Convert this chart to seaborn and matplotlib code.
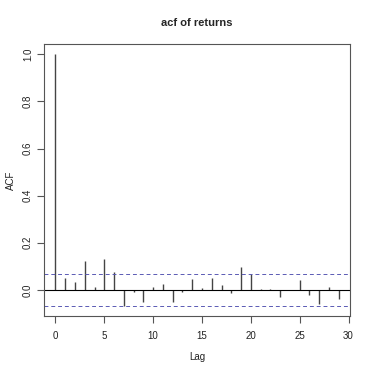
import numpy as np
import pandas as pd
import matplotlib
matplotlib.use("Agg")
import matplotlib.pyplot as plt
import seaborn as sns

# acf values, lags 0..29
lags = list(range(30))
acf = [1.0, 0.052, 0.032, 0.122, 0.014, 0.133, 0.074, -0.068, -0.009, -0.051,
       0.013, 0.024, -0.051, -0.009, 0.048, 0.006, 0.049, 0.020, -0.013, 0.095,
       0.069, 0.005, 0.002, -0.029, 0.001, 0.040, -0.022, -0.058, 0.013, -0.040]
conf = 0.068

df = pd.DataFrame({"lag": lags, "acf": acf})

sns.set_style("white")
plt.rcParams["font.family"] = ["Liberation Sans", "DejaVu Sans"]

fig = plt.figure(figsize=(3.74, 3.74), dpi=100)
ax = fig.add_axes([0.118, 0.155, 0.818, 0.727])

# stems
ax.vlines(df["lag"], 0, df["acf"], color="#444444", linewidth=1.0)
ax.axhline(0, color="black", linewidth=0.8)
ax.axhline(conf, color="#5a5ab4", linewidth=0.7, linestyle=(0, (4, 3)))
ax.axhline(-conf, color="#5a5ab4", linewidth=0.7, linestyle=(0, (4, 3)))

ax.set_xlim(-1.16, 30.16)
ax.set_ylim(-0.111, 1.043)
ax.set_xticks([0, 5, 10, 15, 20, 25, 30])
ax.set_yticks([0.0, 0.2, 0.4, 0.6, 0.8, 1.0])
ax.set_yticklabels(["0.0", "0.2", "0.4", "0.6", "0.8", "1.0"], rotation=90, va="center")

for s in ax.spines.values():
    s.set_color("#555555")
    s.set_linewidth(0.8)
ax.tick_params(axis="x", direction="out", length=5, width=0.8, color="#555555",
               labelsize=7, labelcolor="#222222", pad=6, bottom=True)
ax.tick_params(axis="y", direction="out", length=5, width=0.8, color="#555555",
               labelsize=7, labelcolor="#222222", pad=3, left=True)

ax.set_xlabel("Lag", fontsize=7, color="#222222", labelpad=8)
ax.set_ylabel("ACF", fontsize=7, color="#222222", labelpad=5)
ax.set_title("acf of returns", fontsize=8, fontweight="bold", pad=13)

fig.savefig("out.png", dpi=100)
